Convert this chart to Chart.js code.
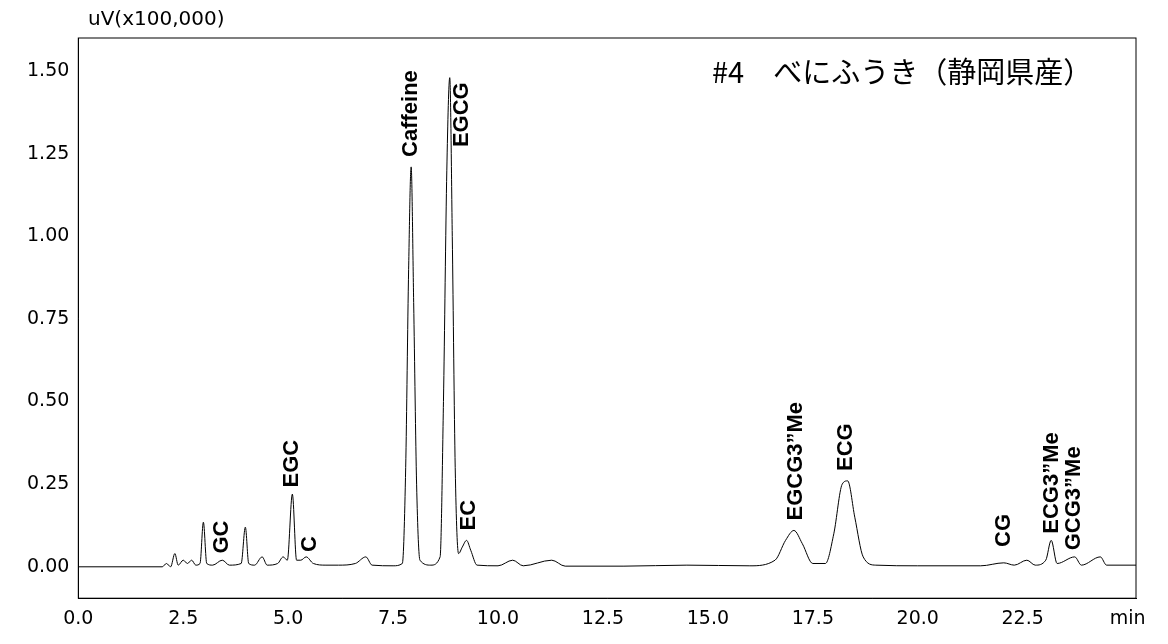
<!DOCTYPE html><html><head><meta charset="utf-8">
<script src="https://cdn.jsdelivr.net/npm/chart.js@4"></script>
<style>body{margin:0;background:#fff}#w{width:1168px;height:644px}</style></head><body><div id="w"><canvas id="c"></canvas></div>
<script>
const times=[0,2.0,2.1,2.2,2.3,2.38,2.5,2.6,2.7,2.8,2.9,2.98,3.06,3.2,3.43,3.6,3.88,3.98,4.06,4.2,4.38,4.5,4.75,4.88,4.98,5.1,5.2,5.3,5.43,5.6,5.9,6.2,6.6,6.85,7.0,7.5,7.72,7.8,7.87,7.93,7.99,8.06,8.14,8.4,8.62,8.7,8.78,8.85,8.91,8.98,9.06,9.15,9.25,9.35,9.5,10.0,10.35,10.6,11.28,11.6,13,14.5,16.0,16.6,16.85,17.05,17.25,17.5,17.8,18.0,18.2,18.33,18.5,18.7,19.0,20,21.5,22.05,22.3,22.6,22.8,23.05,23.18,23.32,23.74,23.9,24.35,24.5,25.2];
const values=[0,0,0.01,0.0,0.04,0.005,0.02,0.01,0.02,0.005,0.01,0.135,0.01,0.005,0.02,0.005,0.01,0.12,0.01,0.005,0.03,0.005,0.01,0.03,0.02,0.22,0.02,0.02,0.03,0.01,0.005,0.005,0.01,0.03,0.005,0.003,0.01,0.3,0.9,1.21,0.8,0.25,0.02,0.005,0.03,0.5,1.2,1.48,1.0,0.3,0.04,0.06,0.08,0.05,0.005,0.003,0.02,0.003,0.02,0.002,0.002,0.005,0.003,0.02,0.08,0.11,0.07,0.01,0.01,0.1,0.25,0.26,0.15,0.03,0.005,0.003,0.003,0.012,0.005,0.02,0.005,0.02,0.08,0.01,0.03,0.005,0.03,0.005,0.005];
const peakNames=['GC','EGC','C','Caffeine','EGCG','EC','EGCG3”Me','ECG','CG','ECG3”Me','GCG3”Me'];
const peakTimes=[3.43,5.1,5.52,7.93,9.14,9.3,17.1,18.3,22.05,23.2,23.72];
const peakLabelY=[0.04,0.24,0.045,1.24,1.27,0.11,0.14,0.29,0.06,0.1,0.05];
const title='#4　べにふうき（静岡県産）';
const yUnit='uV(x100,000)';
const deco={id:'deco',afterDraw(ch){const c=ch.ctx,a=ch.chartArea,x=ch.scales.x,y=ch.scales.y;c.save();
c.strokeStyle='#000';c.lineWidth=1;c.strokeRect(a.left,a.top,a.right-a.left,a.bottom-a.top);
c.fillStyle='#000';c.font='bold 22px "Liberation Sans",Arial';c.textAlign='left';c.textBaseline='middle';
peakNames.forEach((n,i)=>{c.save();c.translate(x.getPixelForValue(peakTimes[i]),y.getPixelForValue(peakLabelY[i]));c.rotate(-Math.PI/2);c.fillText(n,0,0);c.restore();});
c.font='29px "Noto Sans CJK JP"';c.textBaseline='middle';c.fillText(title,712,72);
c.font='20px "DejaVu Sans"';c.fillText(yUnit,88,20);
c.restore();}};
new Chart(document.getElementById('c'),{type:'line',data:{labels:times,datasets:[{data:times.map((t,i)=>({x:t,y:values[i]})),borderColor:'#000',borderWidth:1,pointRadius:0,cubicInterpolationMode:'monotone'}]},
options:{responsive:true,maintainAspectRatio:false,animation:false,layout:{padding:{top:38,right:32,left:24,bottom:11}},plugins:{legend:{display:false},tooltip:{enabled:false}},
scales:{x:{type:'linear',min:0,max:25.2,grid:{display:false,drawTicks:true,tickLength:6,color:'#000'},border:{color:'#000'},
afterBuildTicks(s){s.ticks=[0,2.5,5,7.5,10,12.5,15,17.5,20,22.5,25].map(v=>({value:v}));},
ticks:{color:'#000',font:{size:19,family:'DejaVu Sans'},maxRotation:0,autoSkip:false,callback:v=>v===25?'min':v.toFixed(1)}},
y:{min:-0.095,max:1.6,grid:{display:false,drawTicks:true,tickLength:6},border:{color:'#000'},
afterBuildTicks(s){s.ticks=[0,0.25,0.5,0.75,1,1.25,1.5].map(v=>({value:v}));},
ticks:{color:'#000',font:{size:19,family:'DejaVu Sans'},callback:v=>v.toFixed(2)}}}},plugins:[deco]});
</script></body></html>
